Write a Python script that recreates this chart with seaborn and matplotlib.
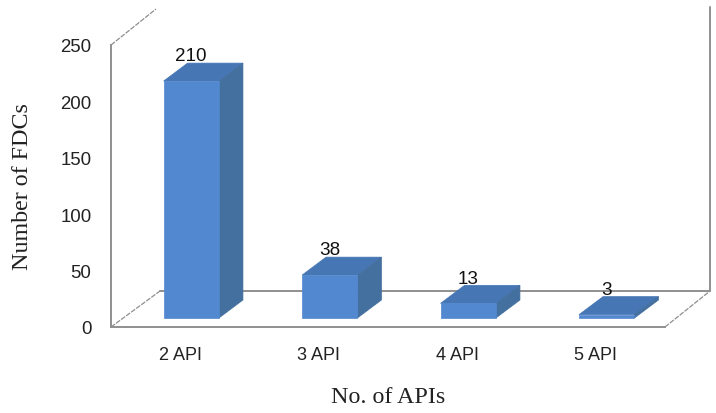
import matplotlib as mpl
mpl.use('Agg')
import matplotlib.pyplot as plt
import pandas as pd
import seaborn as sns
from matplotlib.patches import Polygon

categories = ['2 API', '3 API', '4 API', '5 API']
fdc_counts = [210, 38, 13, 3]
y_ticks = [0, 50, 100, 150, 200, 250]

W, H = 716, 414
# front plane of the fake 3d box, in pixels
left, right, top, floor = 111, 665, 46, 328
px_x = (right - left) / len(categories)
px_y = (floor - top) / 250

LINE = '#8f8f8f'
FRONT = '#5288cf'
TOP = '#4676b4'
SIDE = '#44709f'


def dx(px):
    return px / px_x


def dy(px):
    return px / px_y


sns.set_style('white')
plt.rcParams['font.family'] = ['Liberation Sans', 'DejaVu Sans']

df = pd.DataFrame({'api': categories, 'n': fdc_counts})

fig = plt.figure(figsize=(W / 100, H / 100), dpi=100)
ax = fig.add_axes([left / W, 1 - floor / H, (right - left) / W, (floor - top) / H])

sns.barplot(data=df, x='api', y='n', ax=ax, color=FRONT, width=0.4, saturation=1,
            bottom=dy(9), zorder=4)

ax.set_xlim(-0.5, len(categories) - 0.5)
ax.set_ylim(0, 250)
ax.set_yticks(y_ticks)
sns.despine(ax=ax, top=True, right=True)
for s in ['left', 'bottom']:
    ax.spines[s].set_color(LINE)
    ax.spines[s].set_linewidth(1.4)
ax.tick_params(axis='both', length=0, labelcolor='#222222')
ax.tick_params(axis='x', pad=14, labelsize=13)
ax.tick_params(axis='y', pad=14, labelsize=13.4)

# back wall and floor edges
x0, x1 = ax.get_xlim()
depth_x, depth_y = dx(49), dy(36)
line_kw = dict(color=LINE, clip_on=False, zorder=1)
ax.plot([x0 + depth_x, x1 + dx(45)], [depth_y, depth_y], lw=1.4, **line_kw)
ax.plot([x1 + dx(45), x1 + dx(45)], [depth_y, 250 + dy(38)], lw=1.4, **line_kw)
ax.plot([x0, x0 + depth_x], [0, depth_y], lw=0.9, ls=(0, (4, 1)), **line_kw)
ax.plot([x1, x1 + dx(45)], [0, depth_y], lw=0.9, ls=(0, (4, 1)), **line_kw)
ax.plot([x0, x0 + dx(45)], [250, 250 + dy(36)], lw=0.9, ls=(0, (4, 1)), **line_kw)

# shift the bars off the front plane and add top and side faces
off_x, off_y = dx(24), dy(18)
for bar in ax.containers[0]:
    bar.set_x(bar.get_x() + dx(11))
    bar.set_edgecolor(FRONT)
    bar.set_linewidth(0.5)
    l, r = bar.get_x(), bar.get_x() + bar.get_width()
    b, t = bar.get_y(), bar.get_y() + bar.get_height()
    ax.add_patch(Polygon([(l, t), (r, t), (r + off_x, t + off_y), (l + off_x, t + off_y)],
                         facecolor=TOP, edgecolor=TOP, lw=0.5, clip_on=False, zorder=3))
    ax.add_patch(Polygon([(r, b), (r + off_x, b + off_y), (r + off_x, t + off_y), (r, t)],
                         facecolor=SIDE, edgecolor=SIDE, lw=0.5, clip_on=False, zorder=3))

labels = ax.bar_label(ax.containers[0], labels=[str(v) for v in fdc_counts], padding=12,
                      fontsize=13.6, color='#111111', zorder=6)
for txt in labels:
    txt.set_x(txt.get_position()[0] - dx(2))

ax.set_xlabel('No. of APIs', family='Liberation Serif', fontsize=17.3, color='#222222')
ax.set_ylabel('Number of FDCs', family='Liberation Serif', fontsize=17.3, color='#222222')
ax.xaxis.set_label_coords((388 - left) / (right - left), -(387 - floor) / (floor - top))
ax.yaxis.set_label_coords(-(left - 33) / (right - left), (floor - 187) / (floor - top))

plt.savefig('out.png', dpi=100)
